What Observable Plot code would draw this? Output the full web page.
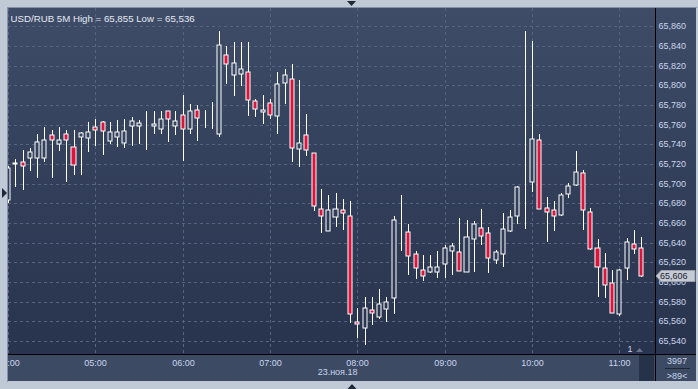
<!DOCTYPE html>
<html><head><meta charset="utf-8">
<script src="https://cdn.jsdelivr.net/npm/d3@7"></script>
<script src="https://cdn.jsdelivr.net/npm/@observablehq/plot@0.6"></script>
<style>
html,body{margin:0;padding:0;background:#c0cad6;overflow:hidden;}
#chart svg{display:block;}
</style></head><body><div id="chart"></div>
<script>
// ---- data (USD/RUB, 5-minute candles, 23.11.2018) ----
const times = ["04:00","04:05","04:10","04:15","04:20","04:25","04:30","04:35","04:40","04:45","04:50","04:55",
"05:00","05:05","05:10","05:15","05:20","05:25","05:30","05:35","05:40","05:45","05:50","05:55",
"06:00","06:05","06:10","06:15","06:20","06:25","06:30","06:35","06:40","06:45","06:50","06:55",
"07:00","07:05","07:10","07:15","07:20","07:25","07:30","07:35","07:40","07:45","07:50","07:55",
"08:00","08:05","08:10","08:15","08:20","08:25","08:30","08:35","08:40","08:45","08:50","08:55",
"09:00","09:05","09:10","09:15","09:20","09:25","09:30","09:35","09:40","09:45","09:50","09:55",
"10:00","10:05","10:10","10:15","10:20","10:25","10:30","10:35","10:40","10:45","10:50","10:55",
"11:00","11:05","11:10","11:15"];
const open = [65.6833,65.7205,65.7217,65.7264,65.7264,65.7264,65.7492,65.7400,65.7502,65.7369,65.7471,65.7461,
65.7579,65.7624,65.7431,65.7471,65.7410,65.7589,65.7589,65.7637,65.7589,65.7559,65.7736,65.7583,
65.7695,65.7559,65.7746,65.7685,65.7681,65.7508,65.8305,65.8102,65.8112,65.8132,65.7837,65.7726,
65.7817,65.7685,65.8021,65.8061,65.7349,65.7492,65.7308,65.6739,65.6515,65.6657,65.6729,65.6668,
65.5589,65.5528,65.5711,65.5640,65.5721,65.5833,65.6586,65.6505,65.6281,65.6118,65.6098,65.6098,
65.6179,65.6311,65.6301,65.6098,65.6434,65.6545,65.6495,65.6220,65.6281,65.6515,65.6668,65.6989,
65.7013,65.7441,65.6749,65.6729,65.6678,65.6891,65.6983,65.7105,65.6708,65.6342,65.6139,65.5986,
65.5671,65.6139,65.6383,65.6342];
const high = [65.7180,65.7250,65.7342,65.7365,65.7502,65.7573,65.7545,65.7573,65.7545,65.7545,65.7522,65.7624,
65.7654,65.7637,65.7624,65.7644,65.7654,65.7675,65.7644,65.7739,65.7739,65.7739,65.7739,65.7739,
65.7898,65.7810,65.7797,65.7746,65.7830,65.8548,65.8400,65.8438,65.8438,65.8438,65.7858,65.7898,
65.7858,65.8132,65.8163,65.8214,65.8051,65.7705,65.7308,65.6942,65.6881,65.6902,65.6840,65.6820,
65.5732,65.5844,65.5844,65.5925,65.5844,65.6668,65.6881,65.6586,65.6311,65.6271,65.6271,65.6311,
65.6373,65.6393,65.6647,65.6627,65.6617,65.6739,65.6556,65.6322,65.6698,65.6729,65.6973,65.8550,
65.8448,65.7502,65.6861,65.6820,65.6902,65.7003,65.7329,65.7136,65.6749,65.6434,65.6291,65.6118,
65.6128,65.6444,65.6525,65.6454];
const low = [65.6800,65.6969,65.6935,65.7131,65.7060,65.7223,65.7060,65.7335,65.7020,65.7085,65.7091,65.7325,
65.7386,65.7294,65.7406,65.7376,65.7359,65.7386,65.7406,65.7345,65.7508,65.7508,65.7426,65.7498,
65.7233,65.7508,65.7437,65.7569,65.7559,65.7471,65.8016,65.7894,65.7996,65.7691,65.7675,65.7603,
65.7660,65.7502,65.7807,65.7217,65.7166,65.7278,65.6718,65.6495,65.6515,65.6556,65.6525,65.5579,
65.5426,65.5358,65.5559,65.5620,65.5589,65.5671,65.6311,65.6067,65.6027,65.6006,65.6088,65.6037,
65.6037,65.6067,65.6108,65.6098,65.6098,65.6373,65.6088,65.6179,65.6149,65.6505,65.6586,65.6541,
65.6912,65.6739,65.6403,65.6515,65.6668,65.6851,65.6973,65.6525,65.6322,65.5844,65.5833,65.5681,
65.5650,65.6016,65.6281,65.6047];
const close = [65.7156,65.7203,65.7176,65.7319,65.7420,65.7444,65.7441,65.7441,65.7441,65.7186,65.7512,65.7522,
65.7542,65.7532,65.7522,65.7522,65.7532,65.7634,65.7614,65.7637,65.7607,65.7654,65.7654,65.7634,
65.7553,65.7736,65.7664,65.7685,65.7681,65.8407,65.8214,65.8224,65.8163,65.7848,65.7756,65.7746,
65.7695,65.8010,65.8102,65.7359,65.7410,65.7339,65.6769,65.6668,65.6729,65.6739,65.6698,65.5671,
65.5569,65.5732,65.5681,65.5772,65.5793,65.6627,65.6586,65.6261,65.6139,65.6057,65.6149,65.6149,
65.6342,65.6362,65.6108,65.6454,65.6586,65.6464,65.6240,65.6301,65.6535,65.6657,65.6963,65.6989,
65.7451,65.6739,65.6708,65.6668,65.6881,65.6973,65.7115,65.6729,65.6332,65.6149,65.5966,65.5681,
65.6118,65.6403,65.6332,65.6057];
const yTicks = [65.54,65.56,65.58,65.60,65.62,65.64,65.66,65.68,65.70,65.72,65.74,65.76,65.78,65.80,65.82,65.84,65.86];
const xTickLabels = ["04:00","05:00","06:00","07:00","08:00","09:00","10:00","11:00"];
const dateLabel = "23.ноя.18";
const symbol = "USD/RUB 5M";
const footerTop = "3997";
const footerBottom = ">89<";
const pageLabel = "1";

// ---- build ----
const day = s => new Date(`2018-11-23T${s}:00Z`);
const candles = times.map((t, i) => ({t: day(t), o: open[i], h: high[i], l: low[i], c: close[i]}));
const fmt = v => d3.format(".3f")(v).replace(".", ",");
const hi = d3.max(high), lo = d3.min(low), last = close[close.length - 1];
const title = `${symbol} High = ${fmt(hi)} Low = ${fmt(lo)}`;
const halfBody = 84e3; // ms
const textColor = "#c9d6ec";
const red = "#dc143c";
const xStart = day(times[0]);
const xEnd = new Date(+xStart + 444.5 * 60000);
const xTicks = xTickLabels.map(day);

const chart = Plot.plot({
  width: 698, height: 389,
  marginLeft: 8, marginRight: 43, marginTop: 8, marginBottom: 35,
  style: {background: "#c0cad6", fontFamily: "'Liberation Sans', Arial, sans-serif", fontSize: "9px", overflow: "visible"},
  x: {type: "utc", domain: [xStart, xEnd], round: true},
  y: {domain: [65.52667, 65.87866], round: true},
  marks: [
    Plot.gridY(yTicks, {stroke: "#56647f", strokeOpacity: 1, strokeDasharray: "3,3"}),
    Plot.gridX(xTicks, {stroke: "#56647f", strokeOpacity: 1, strokeDasharray: "3,3"}),
    Plot.ruleX(candles, {x: "t", y1: "l", y2: "h", stroke: "white", strokeWidth: 1}),
    Plot.rect(candles.filter(d => d.c >= d.o), {x1: d => new Date(+d.t - halfBody), x2: d => new Date(+d.t + halfBody), y1: "o", y2: "c", fill: "url(#bgGrad)", stroke: "white", strokeWidth: 1}),
    Plot.rect(candles.filter(d => d.c < d.o), {x1: d => new Date(+d.t - halfBody), x2: d => new Date(+d.t + halfBody), y1: "o", y2: "c", fill: red, stroke: "white", strokeWidth: 1}),
    Plot.axisY(yTicks, {anchor: "right", tickSize: 0, tickPadding: 3, tickFormat: fmt, fill: textColor, label: null}),
    Plot.axisX(xTicks, {anchor: "bottom", tickSize: 0, tickPadding: 5, tickFormat: d3.utcFormat("%H:%M"), fill: textColor, label: null}),
    Plot.text([{t: day("08:00"), s: dateLabel}], {x: "t", text: "s", frameAnchor: "bottom", dy: 20, textAnchor: "end", fill: textColor}),
    Plot.text([title], {frameAnchor: "top-left", dx: 2, dy: 7, textAnchor: "start", fill: "#e4eaf4", fontSize: 9.7})
  ]
});
document.getElementById("chart").appendChild(chart);

// ---- chrome decorations ----
const svg = d3.select(chart);
const defs = svg.insert("defs", ":first-child");
const g = defs.append("linearGradient").attr("id", "bgGrad").attr("gradientUnits", "userSpaceOnUse")
  .attr("x1", 0).attr("y1", 8).attr("x2", 0).attr("y2", 354);
g.append("stop").attr("offset", 0).attr("stop-color", "#3e4c67");
g.append("stop").attr("offset", 1).attr("stop-color", "#28334d");

const bg = svg.insert("g", "defs + *");
bg.append("rect").attr("x", 8).attr("y", 8).attr("width", 688).attr("height", 373).attr("fill", "url(#bgGrad)");
bg.append("rect").attr("x", 8).attr("y", 354).attr("width", 688).attr("height", 27).attr("fill", "#3c4a64");
bg.append("rect").attr("x", 639).attr("y", 355).attr("width", 15).attr("height", 26).attr("fill", "#26314a");

const fg = svg.append("g").attr("text-anchor", "start");
fg.append("rect").attr("x", 0).attr("y", 0).attr("width", 8).attr("height", 389).attr("fill", "#c0cad6");
fg.append("line").attr("x1", 7.5).attr("x2", 7.5).attr("y1", 7).attr("y2", 382).attr("stroke", "#8593a8");
fg.append("line").attr("x1", 7).attr("x2", 697).attr("y1", 7.5).attr("y2", 7.5).attr("stroke", "#8593a8");
fg.append("line").attr("x1", 8).attr("x2", 696).attr("y1", 354.5).attr("y2", 354.5).attr("stroke", "#000");
fg.append("line").attr("x1", 655.5).attr("x2", 655.5).attr("y1", 8).attr("y2", 381).attr("stroke", "#000");
fg.append("path").attr("d", "M347,1L356,1L351.5,6Z").attr("fill", "#1e2838");
fg.append("path").attr("d", "M347.5,389L356.5,389L352,384Z").attr("fill", "#1e2838");
fg.append("path").attr("d", "M2,188L7,193L2,198Z").attr("fill", "#1e2838");
fg.append("path").attr("d", "M636,352L643,352L639.5,348Z").attr("fill", "#66758e");
fg.append("text").attr("x", 630).attr("y", 352).attr("fill", textColor).attr("font-size", 9).attr("text-anchor", "middle").text(pageLabel);
fg.append("text").attr("x", 677).attr("y", 364).attr("fill", textColor).attr("font-size", 9).attr("text-anchor", "middle").text(footerTop);
fg.append("line").attr("x1", 665).attr("x2", 690).attr("y1", 368.5).attr("y2", 368.5).attr("stroke", "#1e2838");
fg.append("text").attr("x", 677).attr("y", 379).attr("fill", textColor).attr("font-size", 9).attr("text-anchor", "middle").text(footerBottom);

// last price marker
const yl = chart.scale("y").apply(last);
fg.append("path").attr("d", `M656,${yl}L661,${yl - 5.5}L695,${yl - 5.5}L695,${yl + 5.5}L661,${yl + 5.5}Z`)
  .attr("fill", "#c6cad2").attr("stroke", "#9aa2ae");
fg.append("text").attr("x", 660).attr("y", yl).attr("dy", "0.35em").attr("text-anchor", "start")
  .attr("fill", "#1a2436").attr("font-size", 9).text(fmt(last));
</script></body></html>
